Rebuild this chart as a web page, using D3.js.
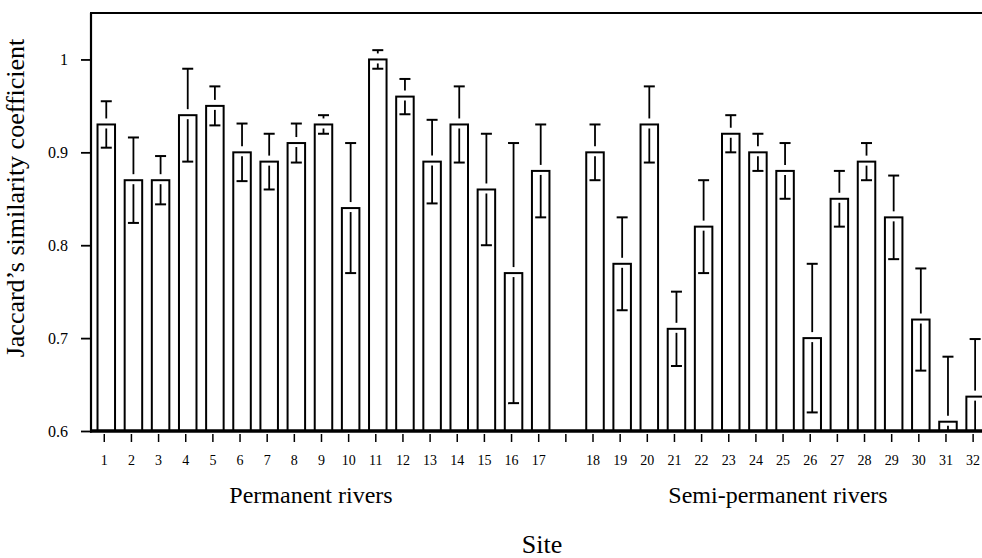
<!DOCTYPE html>
<html>
<head>
<meta charset="utf-8">
<script src="https://cdn.jsdelivr.net/npm/d3@7"></script>
<style>
  html, body { margin: 0; padding: 0; background: #fff; }
  svg { display: block; }
  text { font-family: "Liberation Serif", "Times New Roman", serif; fill: #000; }
</style>
</head>
<body>
<svg id="chart" width="982" height="558"></svg>
<script>
// ---- data ----
const siteLabels = ["1","2","3","4","5","6","7","8","9","10","11","12","13","14","15","16","17",
                    "18","19","20","21","22","23","24","25","26","27","28","29","30","31","32"];
const permanentCount = 17;
const jaccardMean = [0.93,0.87,0.87,0.94,0.95,0.90,0.89,0.91,0.93,0.84,1.00,0.96,0.89,0.93,0.86,0.77,0.88,
                     0.90,0.78,0.93,0.71,0.82,0.92,0.90,0.88,0.70,0.85,0.89,0.83,0.72,0.61,0.637];
const jaccardSD   = [0.025,0.046,0.026,0.05,0.021,0.031,0.03,0.021,0.01,0.07,0.01,0.019,0.045,0.041,0.06,0.14,0.05,
                     0.03,0.05,0.041,0.04,0.05,0.02,0.02,0.03,0.08,0.03,0.02,0.045,0.055,0.07,0.062];
const yTicks = [0.6, 0.7, 0.8, 0.9, 1];
const groupLabels = ["Permanent rivers", "Semi-permanent rivers"];
const xTitle = "Site";
const yTitle = "Jaccard\u2019s similarity coefficient";

// categories on the axis, with one empty slot between the two groups
const axisCategories = siteLabels.slice(0, permanentCount).concat([""], siteLabels.slice(permanentCount));
const rows = siteLabels.map((s, i) => ({ site: s, mean: jaccardMean[i], sd: jaccardSD[i] }));

// ---- layout ----
const svg = d3.select("#chart");
const plotLeft = 91, plotRight = 986.7, plotTop = 13, plotBottom = 431;
const barShift = 2;

const x = d3.scaleBand().domain(axisCategories).range([plotLeft - 0.3, plotRight])
  .paddingInner(0.355).paddingOuter(0.1775);
const y = d3.scaleLinear().domain([0.6, 1.05]).range([plotBottom, plotTop]);

// bars
svg.append("g").selectAll("rect").data(rows).join("rect")
  .attr("x", d => x(d.site) + barShift)
  .attr("y", d => y(d.mean))
  .attr("width", x.bandwidth())
  .attr("height", d => y(0.6) - y(d.mean))
  .attr("fill", "#fff")
  .attr("stroke", "#000")
  .attr("stroke-width", 2);

// error bars (gap around the bar top as in the original)
const capW = 11, gapAbove = 6, gapBelow = 4;
const eb = svg.append("g").attr("stroke", "#000");
rows.forEach(d => {
  const cx = x(d.site) + x.bandwidth() / 2 + barShift;
  const yTop = y(d.mean);
  const hi = d.mean + d.sd, lo = d.mean - d.sd;
  const yHi = y(hi);
  const yLo = y(Math.max(lo, 0.6));
  if (yTop - gapAbove > yHi) {
    eb.append("line").attr("x1", cx).attr("x2", cx).attr("y1", yHi).attr("y2", yTop - gapAbove).attr("stroke-width", 1.8);
  }
  eb.append("line").attr("x1", cx - capW / 2).attr("x2", cx + capW / 2).attr("y1", yHi).attr("y2", yHi).attr("stroke-width", 2);
  if (yLo > yTop + gapBelow) {
    eb.append("line").attr("x1", cx).attr("x2", cx).attr("y1", yTop + gapBelow).attr("y2", yLo).attr("stroke-width", 1.8);
  }
  if (lo >= 0.6) {
    eb.append("line").attr("x1", cx - capW / 2).attr("x2", cx + capW / 2).attr("y1", yLo).attr("y2", yLo).attr("stroke-width", 2);
  }
});

// bottom axis (ticks + labels)
const xAxis = svg.append("g").attr("transform", "translate(0,434)")
  .call(d3.axisBottom(x).tickSize(8).tickSizeOuter(0).tickPadding(13));
xAxis.select(".domain").remove();
xAxis.selectAll(".tick line").attr("stroke", "#000").attr("stroke-width", 1.5);
xAxis.selectAll(".tick text").attr("font-size", 14).attr("font-family", "Liberation Serif");

// left axis
const yAxis = svg.append("g").attr("transform", `translate(${plotLeft},0)`)
  .call(d3.axisLeft(y).tickValues(yTicks).tickSize(10).tickPadding(13)
    .tickFormat(d => d === 1 ? "1" : d3.format(".1f")(d)));
yAxis.select(".domain").remove();
yAxis.selectAll(".tick line").attr("stroke", "#000").attr("stroke-width", 1.8);
yAxis.selectAll(".tick text").attr("font-size", 16).attr("font-family", "Liberation Serif");

// frame lines: left axis, top, bottom baseline
svg.append("line").attr("x1", plotLeft).attr("x2", plotLeft).attr("y1", plotTop).attr("y2", plotBottom + 1.5)
  .attr("stroke", "#000").attr("stroke-width", 2.2);
svg.append("line").attr("x1", plotLeft - 1).attr("x2", plotRight).attr("y1", plotTop).attr("y2", plotTop)
  .attr("stroke", "#000").attr("stroke-width", 2);
svg.append("line").attr("x1", plotLeft - 1).attr("x2", plotRight).attr("y1", plotBottom).attr("y2", plotBottom)
  .attr("stroke", "#000").attr("stroke-width", 3.5);

// group labels
svg.append("text").attr("x", 311).attr("y", 503).attr("text-anchor", "middle")
  .attr("font-size", 24).text(groupLabels[0]);
svg.append("text").attr("x", 778).attr("y", 503).attr("text-anchor", "middle")
  .attr("font-size", 24).text(groupLabels[1]);

// axis titles
svg.append("text").attr("x", 542).attr("y", 553).attr("text-anchor", "middle")
  .attr("font-size", 26).text(xTitle);
svg.append("text").attr("transform", "translate(24,198) rotate(-90)").attr("text-anchor", "middle")
  .attr("font-size", 26).text(yTitle);
</script>
</body>
</html>
